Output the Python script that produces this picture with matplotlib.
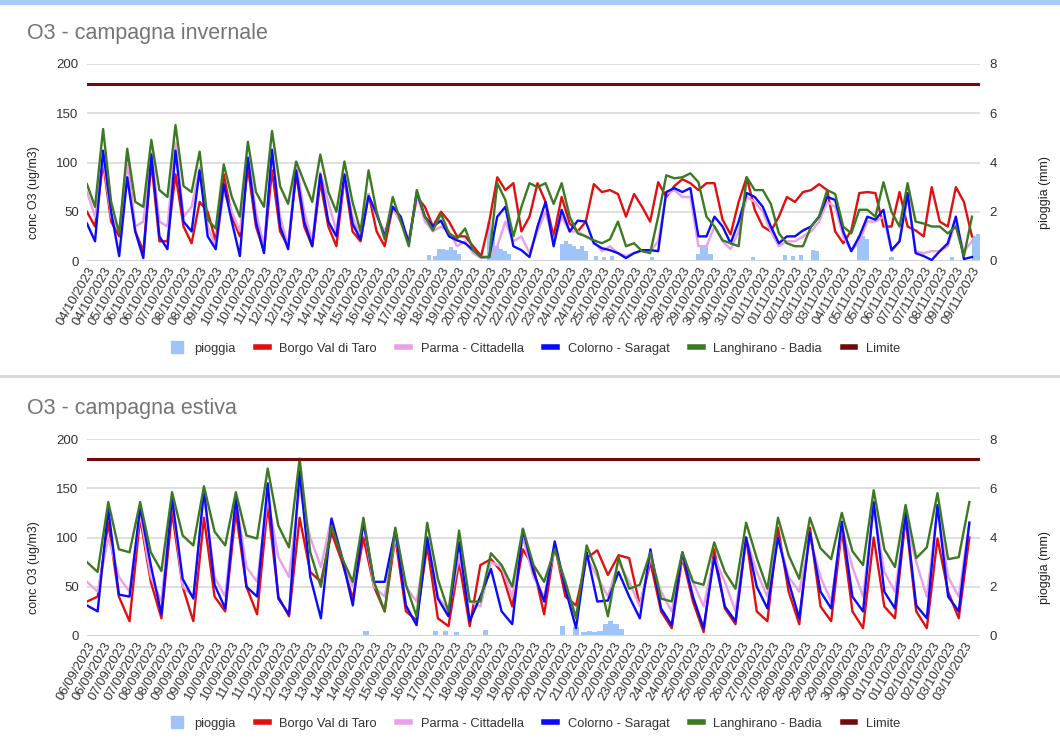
import matplotlib
matplotlib.use('Agg')
import matplotlib.pyplot as plt
import matplotlib.dates as mdates
from matplotlib.lines import Line2D
from matplotlib.patches import Patch, Rectangle
import numpy as np
import pandas as pd

plt.rcParams['font.family'] = ['Liberation Sans', 'DejaVu Sans']

# ---- data (ug/m3 read at 00h, 08h, 16h of each day) ----
SAMPLE_HOURS = [0, 8, 16]
LIMITE = 180

# campagna invernale: 04/10/2023 -> 09/11/2023
inv_start = '2023-10-04'
inv_days = 37
inv_red = [
    [50, 35, 100], [40, 25, 105], [30, 10, 100], [20, 20, 88], [35, 18, 60],
    [50, 20, 88], [45, 25, 95], [35, 10, 92], [30, 15, 88], [35, 15, 80],
    [35, 15, 85], [30, 20, 68], [30, 15, 55], [40, 20, 65], [55, 35, 50],
    [40, 25, 25], [15, 5, 40], [85, 72, 79], [30, 45, 79], [60, 25, 65],
    [38, 30, 40], [78, 70, 72], [68, 45, 68], [55, 40, 80], [65, 76, 83],
    [79, 72, 79], [79, 42, 27], [60, 85, 52], [35, 30, 45], [65, 60, 70],
    [72, 78, 72], [30, 18, 31], [69, 70, 69], [35, 35, 70], [35, 31, 25],
    [75, 40, 35], [75, 60, 25],
]
inv_pink = [
    [70, 45, 105], [45, 30, 100], [35, 40, 110], [40, 35, 120], [45, 55, 95],
    [35, 15, 70], [50, 30, 105], [50, 15, 110], [45, 15, 100], [50, 20, 90],
    [60, 30, 85], [45, 25, 68], [45, 30, 55], [40, 20, 68], [40, 30, 35],
    [30, 15, 20], [8, 3, 5], [15, 40, 20], [25, 8, 30], [50, 20, 45],
    [30, 30, 25], [20, 10, 15], [8, 5, 8], [10, 10, 20], [68, 72, 65],
    [65, 15, 15], [35, 20, 12], [30, 65, 60], [50, 30, 15], [20, 20, 25],
    [30, 40, 60], [55, 25, 10], [20, 40, 40], [45, 10, 20], [65, 10, 8],
    [10, 10, 15], [40, 10, 20],
]
inv_blue = [
    [38, 20, 112], [50, 5, 85], [30, 3, 108], [25, 12, 112], [40, 30, 92],
    [25, 12, 78], [40, 5, 105], [40, 8, 113], [35, 12, 92], [40, 15, 88],
    [40, 25, 88], [38, 22, 66], [48, 25, 55], [45, 18, 70], [45, 35, 41],
    [25, 21, 18], [11, 4, 4], [45, 55, 15], [11, 4, 35], [60, 15, 52],
    [30, 41, 40], [18, 13, 11], [8, 3, 8], [11, 11, 10], [70, 74, 70],
    [74, 25, 25], [45, 35, 18], [40, 69, 65], [55, 35, 18], [25, 25, 31],
    [35, 45, 65], [62, 30, 10], [25, 45, 42], [52, 11, 20], [69, 8, 5],
    [1, 10, 18], [45, 2, 4],
]
inv_green = [
    [78, 55, 134], [60, 28, 114], [60, 55, 123], [72, 65, 138], [76, 70, 111],
    [42, 33, 98], [65, 45, 121], [70, 55, 132], [76, 58, 101], [80, 60, 108],
    [70, 50, 101], [60, 30, 92], [50, 22, 65], [40, 15, 72], [45, 31, 48],
    [28, 23, 33], [11, 4, 4], [79, 62, 25], [55, 79, 75], [79, 58, 79],
    [45, 28, 25], [21, 18, 22], [40, 15, 18], [10, 8, 45], [87, 84, 85],
    [89, 80, 45], [35, 21, 18], [15, 85, 72], [72, 58, 28], [18, 15, 15],
    [35, 45, 72], [68, 35, 28], [52, 52, 45], [80, 50, 35], [79, 40, 38],
    [35, 35, 28], [35, 5, 45],
]
# pioggia (mm) in 4-hour blocks
inv_rain_time = [
    '2023-10-18 02:00', '2023-10-18 08:00', '2023-10-18 12:00', '2023-10-18 16:00',
    '2023-10-18 20:00', '2023-10-19 00:00', '2023-10-19 04:00', '2023-10-19 08:00',
    '2023-10-20 14:00', '2023-10-20 18:00', '2023-10-20 22:00', '2023-10-21 02:00',
    '2023-10-21 06:00', '2023-10-21 10:00', '2023-10-23 14:00', '2023-10-23 18:00',
    '2023-10-23 22:00', '2023-10-24 02:00', '2023-10-24 06:00', '2023-10-24 10:00',
    '2023-10-24 14:00', '2023-10-25 00:00', '2023-10-25 08:00', '2023-10-25 16:00',
    '2023-10-27 08:00', '2023-10-29 06:00', '2023-10-29 10:00', '2023-10-29 14:00',
    '2023-10-29 18:00', '2023-10-31 12:00', '2023-11-01 20:00', '2023-11-02 04:00',
    '2023-11-02 12:00', '2023-11-03 00:00', '2023-11-03 04:00', '2023-11-04 22:00',
    '2023-11-05 02:00', '2023-11-05 06:00', '2023-11-06 06:00', '2023-11-08 18:00',
    '2023-11-09 16:00', '2023-11-09 20:00',
]
inv_rain_mm = [
    0.25, 0.2, 0.5, 0.5, 0.45, 0.55, 0.45, 0.3,
    1.6, 1.2, 0.6, 0.5, 0.4, 0.3, 0.7, 0.8,
    0.7, 0.6, 0.5, 0.6, 0.4, 0.2, 0.15, 0.2,
    0.15, 0.3, 0.6, 0.55, 0.3, 0.15, 0.25, 0.2,
    0.25, 0.45, 0.4, 1.0, 1.0, 0.9, 0.15, 0.15,
    1.0, 1.1,
]

# campagna estiva: 06/09/2023 -> 03/10/2023
est_start = '2023-09-06'
est_days = 28
est_red = [
    [35, 40, 115], [40, 15, 120], [55, 18, 126], [50, 15, 120], [40, 25, 126],
    [50, 22, 133], [40, 20, 120], [65, 55, 105], [75, 38, 100], [50, 25, 100],
    [25, 16, 92], [18, 10, 75], [10, 72, 78], [65, 30, 88], [70, 22, 92],
    [40, 31, 79], [87, 62, 82], [79, 31, 75], [25, 8, 80], [35, 4, 88],
    [28, 12, 100], [25, 15, 110], [45, 12, 110], [30, 15, 108], [25, 8, 100],
    [30, 18, 120], [25, 8, 99], [45, 18, 100],
]
est_pink = [
    [55, 45, 100], [60, 45, 125], [60, 35, 140], [50, 40, 145], [60, 40, 140],
    [70, 55, 140], [80, 60, 150], [100, 70, 120], [80, 50, 115], [50, 40, 100],
    [50, 35, 100], [40, 25, 80], [35, 30, 75], [70, 40, 100], [60, 40, 90],
    [50, 20, 80], [60, 40, 75], [55, 30, 80], [45, 25, 80], [55, 30, 80],
    [55, 25, 100], [65, 40, 100], [60, 45, 100], [60, 35, 110], [70, 40, 130],
    [65, 45, 120], [75, 40, 130], [60, 40, 115],
]
est_blue = [
    [31, 25, 129], [42, 40, 131], [72, 22, 140], [58, 38, 148], [52, 28, 140],
    [50, 40, 155], [38, 22, 167], [60, 18, 119], [79, 31, 116], [55, 55, 108],
    [31, 11, 100], [38, 20, 95], [15, 40, 68], [25, 12, 108], [65, 35, 96],
    [48, 8, 85], [35, 36, 65], [40, 18, 88], [28, 11, 85], [40, 8, 80],
    [30, 15, 100], [50, 28, 100], [55, 18, 105], [45, 28, 116], [40, 25, 136],
    [45, 28, 125], [31, 18, 133], [40, 25, 115],
]
est_green = [
    [75, 65, 136], [88, 85, 136], [85, 66, 146], [102, 92, 152], [106, 92, 146],
    [102, 99, 170], [112, 90, 180], [85, 50, 112], [79, 55, 120], [55, 25, 110],
    [52, 20, 115], [58, 25, 107], [35, 35, 84], [72, 50, 109], [72, 55, 88],
    [55, 18, 92], [65, 20, 80], [48, 52, 85], [38, 35, 85], [55, 52, 95],
    [65, 48, 115], [79, 48, 120], [82, 58, 120], [89, 78, 125], [86, 72, 148],
    [88, 70, 133], [79, 90, 145], [78, 80, 136],
]
est_rain_time = [
    '2023-09-14 16:00', '2023-09-16 20:00', '2023-09-17 04:00', '2023-09-17 12:00',
    '2023-09-18 10:00', '2023-09-20 20:00', '2023-09-21 06:00', '2023-09-21 12:00',
    '2023-09-21 16:00', '2023-09-21 20:00', '2023-09-22 00:00', '2023-09-22 04:00',
    '2023-09-22 08:00', '2023-09-22 12:00', '2023-09-22 16:00',
]
est_rain_mm = [
    0.2, 0.2, 0.2, 0.15, 0.25, 0.4, 0.35, 0.15,
    0.2, 0.15, 0.2, 0.5, 0.6, 0.5, 0.3,
]

# ---- style ----
C_RAIN = '#9fc5f8'
C_RED = '#e01010'
C_PINK = '#e9a0e6'
C_BLUE = '#0a0aff'
C_GREEN = '#3b7a22'
C_LIM = '#6e0b0b'
C_TXT = '#222222'


def sample_times(start, n_days):
    base = pd.Timestamp(start)
    return mdates.date2num([base + pd.Timedelta(days=d, hours=h)
                            for d in range(n_days) for h in SAMPLE_HOURS])


def draw_panel(fig, rect, start, n_days, step_h, red, pink, blue, green, rain_t, rain_mm):
    ax = fig.add_axes(rect)
    ax2 = ax.twinx()
    ax.set_zorder(ax2.get_zorder() + 1)
    ax.patch.set_visible(False)

    x = sample_times(start, n_days)
    ax2.bar(mdates.date2num(pd.to_datetime(rain_t)), rain_mm, width=4 / 24,
            align='edge', color=C_RAIN, zorder=2)
    ax2.axhline(0, color=C_RAIN, lw=2, zorder=1)

    for vals, col in [(red, C_RED), (pink, C_PINK), (blue, C_BLUE), (green, C_GREEN)]:
        ax.plot(x, np.ravel(vals), color=col, lw=1.7, solid_joinstyle='round', zorder=3)
    ax.axhline(LIMITE, color=C_LIM, lw=2.2, zorder=4)

    t0 = pd.Timestamp(start)
    ax.set_xlim(mdates.date2num(t0), mdates.date2num(t0 + pd.Timedelta(days=n_days)))
    ax.set_ylim(0, 200)
    ax2.set_ylim(0, 8)
    ax.set_yticks([0, 50, 100, 150, 200])
    ax2.set_yticks([0, 2, 4, 6, 8])
    ax.grid(axis='y', color='#d9d9d9', lw=1.2, zorder=0)
    ax.set_axisbelow(True)

    ticks = [t0 + pd.Timedelta(hours=step_h * k) for k in range(56)]
    ax.set_xticks(mdates.date2num(ticks))
    ax.set_xticklabels([t.strftime('%d/%m/%Y') for t in ticks], rotation=60,
                       ha='right', rotation_mode='anchor', color=C_TXT)
    for a in (ax, ax2):
        for s in a.spines.values():
            s.set_visible(False)
        a.tick_params(length=0, labelsize=9.5, labelcolor='#333333')
    ax.tick_params(axis='x', pad=3, labelsize=9.4)
    ax.tick_params(axis='y', pad=6)
    ax2.tick_params(axis='y', pad=7)

    ax.set_ylabel('conc O3 (ug/m3)', fontsize=9, color=C_TXT)
    ax.yaxis.set_label_coords(-0.053, 0.345)
    ax2.set_ylabel('pioggia (mm)', fontsize=9, color=C_TXT, rotation=90)
    ax2.yaxis.set_label_coords(1.066, 0.345)
    return ax


fig = plt.figure(figsize=(10.6, 7.44), dpi=100)
fig.patches.append(Rectangle((0, 1 - 4 / 744), 1, 4 / 744, transform=fig.transFigure,
                             color='#a6c9f7', zorder=0))
fig.add_artist(Line2D([0, 1], [1 - 376 / 744, 1 - 376 / 744], transform=fig.transFigure,
                      color='#d6d6d6', lw=2))

L, W = 87 / 1060, 893 / 1060
draw_panel(fig, [L, 1 - 261 / 744, W, 197 / 744], inv_start, inv_days, 16,
           inv_red, inv_pink, inv_blue, inv_green, inv_rain_time, inv_rain_mm)
draw_panel(fig, [L, 1 - 636 / 744, W, 197 / 744], est_start, est_days, 12,
           est_red, est_pink, est_blue, est_green, est_rain_time, est_rain_mm)

fig.text(27 / 1060, 1 - 34 / 744, 'O3 - campagna invernale', fontsize=15.5,
         color='#757575', va='center', ha='left')
fig.text(27 / 1060, 1 - 409 / 744, 'O3 - campagna estiva', fontsize=15.5,
         color='#757575', va='center', ha='left')

handles = [
    Patch(color=C_RAIN, label='pioggia'),
    Line2D([], [], color=C_RED, lw=4, label='Borgo Val di Taro'),
    Line2D([], [], color=C_PINK, lw=4, label='Parma - Cittadella'),
    Line2D([], [], color=C_BLUE, lw=4, label='Colorno - Saragat'),
    Line2D([], [], color=C_GREEN, lw=4, label='Langhirano - Badia'),
    Line2D([], [], color=C_LIM, lw=4, label='Limite'),
]
for ly in (1 - 348 / 744, 1 - 723 / 744):
    fig.legend(handles=handles, loc='center', bbox_to_anchor=(0.505, ly), ncol=6,
               frameon=False, fontsize=9.3, handlelength=1.0, handleheight=1.0,
               handletextpad=0.8, columnspacing=1.6, labelcolor='#333333')

fig.savefig('out.png', dpi=100)
